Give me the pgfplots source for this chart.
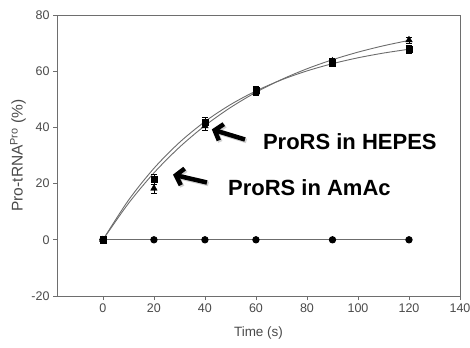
\documentclass[border=0pt]{standalone}
\usepackage{pgfplots}
\pgfplotsset{compat=1.18}
\usepackage{fontspec}
\setmainfont{Liberation Sans}
\usetikzlibrary{arrows.meta}
\definecolor{axgray}{HTML}{6E6E6E}
\definecolor{txtgray}{HTML}{4A4A4A}
\begin{document}
\begin{tikzpicture}
\begin{axis}[
  name=ax,
  scale only axis,
  width=403pt, height=281pt,
  xmin=-18, xmax=140, ymin=-20, ymax=80,
  xtick={0,20,...,140}, ytick={-20,0,...,80},
  axis line style={axgray, line width=0.8pt},
  tick style={axgray, line width=0.7pt},
  tick align=outside, xtick pos=bottom, ytick pos=left,
  major tick length=4pt,
  tick label style={font=\fontsize{12.5}{15}\selectfont, text=txtgray},
  /pgf/number format/assume math mode=true,
  xlabel={Time (s)},
  ylabel={Pro-tRNA\textsuperscript{Pro} (\%)},
  xlabel style={font=\fontsize{13.5}{15}\selectfont, text=txtgray, at={(axis description cs:0.5,0)}, anchor=center, yshift=-37pt},
  ylabel style={font=\fontsize{15.5}{17}\selectfont, text=txtgray, at={(axis description cs:0,0.5)}, anchor=center, yshift=39pt},
  clip=false,
]
% fitted curves
\addplot[gray!85!black, line width=0.9pt, smooth] coordinates {
(0,0) (10,12.94) (20,23.81) (30,32.94) (40,40.62) (50,47.06) (60,52.49)
(70,57.04) (80,60.86) (90,64.08) (100,66.78) (110,69.05) (120,70.96)};
\addplot[gray!85!black, line width=0.9pt, smooth] coordinates {
(0,0) (10,14.06) (20,25.44) (30,34.64) (40,42.08) (50,48.10) (60,52.97)
(70,56.91) (80,60.10) (90,62.68) (100,64.77) (110,66.45) (120,67.82)};
% control
\addplot[gray!85!black, line width=0.9pt, mark=*, mark size=3.2pt,
  mark options={fill=black, draw=black}] coordinates {
(0,0) (20,0) (40,0) (60,0) (90,0) (120,0)};
% square series
\addplot[only marks, mark=square*, mark size=3.2pt, mark options={fill=black, draw=black},
  error bars/.cd, y dir=both, y explicit,
  error bar style={black, line width=0.6pt}, error mark options={rotate=90, mark size=3pt, black}]
  coordinates {
(0,0) +- (0,0) (20,21.5) +- (0,1.7) (40,41.8) +- (0,1.8) (60,53.2) +- (0,1.5)
(90,63.0) +- (0,1.2) (120,67.9) +- (0,1.5)};
% triangle series
\addplot[only marks, mark=triangle*, mark size=3.8pt, mark options={fill=black, draw=black},
  error bars/.cd, y dir=both, y explicit,
  error bar style={black, line width=0.6pt}, error mark options={rotate=90, mark size=3pt, black}]
  coordinates {
(0,0) +- (0,0) (20,18.3) +- (0,1.6) (40,40.5) +- (0,1.5) (60,52.5) +- (0,1.0)
(90,63.6) +- (0,1.2) (120,71.1) +- (0,1.0)};
% annotations
\draw[black!30, line width=4.5pt, -{Straight Barb[length=7pt, width=17pt]}, opacity=0.6]
  ([xshift=1.5pt, yshift=-1.5pt]axis cs:55.7,35.7) -- ([xshift=1.5pt, yshift=-1.5pt]axis cs:42.7,39.3);
\draw[black, line width=4.5pt, -{Straight Barb[length=7pt, width=17pt]}]
  (axis cs:55.7,35.7) -- (axis cs:42.7,39.3);
\draw[black!30, line width=4.5pt, -{Straight Barb[length=7pt, width=17pt]}, opacity=0.6]
  ([xshift=1.5pt, yshift=-1.5pt]axis cs:40.8,20.4) -- ([xshift=1.5pt, yshift=-1.5pt]axis cs:27.5,23.2);
\draw[black, line width=4.5pt, -{Straight Barb[length=7pt, width=17pt]}]
  (axis cs:40.8,20.4) -- (axis cs:27.5,23.2);
\node[anchor=west, inner sep=0pt, font=\fontsize{22}{26}\selectfont\bfseries]
  at (axis cs:62.7,35.0) {ProRS in HEPES};
\node[anchor=west, inner sep=0pt, font=\fontsize{22}{26}\selectfont\bfseries]
  at (axis cs:49.0,18.6) {ProRS in AmAc};
\end{axis}
\pgfresetboundingbox
\path[use as bounding box] ([xshift=-57pt, yshift=-51pt]ax.south west) rectangle ([xshift=10pt, yshift=15pt]ax.north east);
\end{tikzpicture}
\end{document}
